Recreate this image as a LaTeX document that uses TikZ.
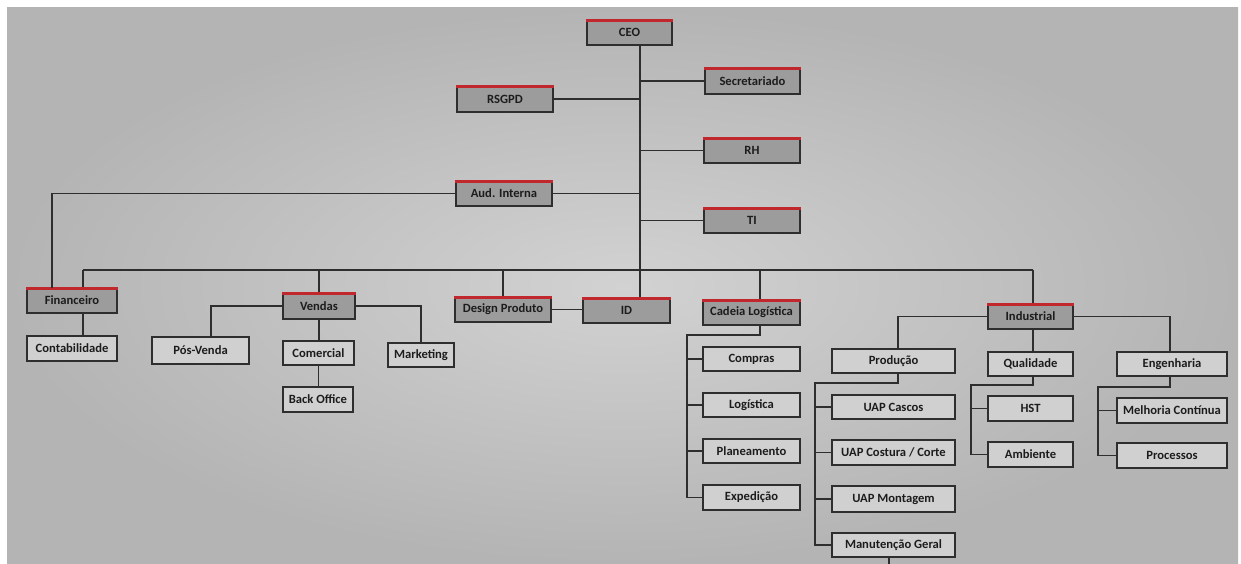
\documentclass[tikz,border=0pt]{standalone}
\usepackage{fontspec}
\setmainfont{Carlito}
\usetikzlibrary{calc}
\definecolor{bgmid}{HTML}{D2D2D2}
\definecolor{bgout}{HTML}{B4B4B4}
\definecolor{topfill}{HTML}{9C9C9C}
\definecolor{subfill}{HTML}{D0D0D0}
\definecolor{redband}{HTML}{C0282D}
\definecolor{ink}{HTML}{2E2E2E}
\definecolor{txt}{HTML}{1C1C1C}
\tikzset{
  base/.style={rectangle, inner sep=0pt, draw=ink, line width=1.3pt,
    text=txt, font=\fontsize{12.6}{13}\selectfont\bfseries},
  topbox/.style={base, fill=topfill,
    path picture={
      \draw[ink, line width=2.6pt] (path picture bounding box.south west) -- (path picture bounding box.south east);
    }},
  subbox/.style={base, fill=subfill},
  link/.style={draw=ink, line width=1.2pt},
  band/.style={draw=redband, line width=3.6pt}
}
\begin{document}
\begin{tikzpicture}[x=1pt,y=-1pt]
\useasboundingbox (0,0) rectangle (1241,564);
\fill[white] (0,0) rectangle (1241,564);
\shade[inner color=bgmid, outer color=bgout] (7,8) rectangle (1238,564);

% top level boxes
\node[topbox, minimum width=85pt, minimum height=25pt] (CEO) at (629.5,32.5) {CEO};
\node[topbox, minimum width=95pt, minimum height=26pt] (Sec) at (752.5,81) {Secretariado};
\node[topbox, minimum width=96pt, minimum height=26pt] (RSGPD) at (505,99) {RSGPD};
\node[topbox, minimum width=96pt, minimum height=25pt] (RH) at (752,150.5) {RH};
\node[topbox, minimum width=96pt, minimum height=25pt] (Aud) at (504,193.5) {Aud. Interna};
\node[topbox, minimum width=96pt, minimum height=25pt] (TI) at (752,220.5) {TI};
\node[topbox, minimum width=90pt, minimum height=25pt] (Fin) at (72,300.5) {Financeiro};
\node[topbox, minimum width=72pt, minimum height=26pt] (Vendas) at (319,306) {Vendas};
\node[topbox, minimum width=96pt, minimum height=25pt] (Design) at (503,309.5) {Design Produto};
\node[topbox, minimum width=87pt, minimum height=25pt] (ID) at (626.5,310.5) {ID};
\node[topbox, minimum width=97pt, minimum height=25pt] (Cadeia) at (751.5,312.5) {Cadeia Logística};
\node[topbox, minimum width=85pt, minimum height=25pt] (Ind) at (1030.5,316.5) {Industrial};

\foreach \n in {CEO,Sec,RSGPD,RH,Aud,TI,Fin,Vendas,Design,ID,Cadeia,Ind}
  \draw[band] ([yshift=-1pt]\n.north west) -- ([yshift=-1pt]\n.north east);

% sub boxes
\node[subbox, minimum width=90pt, minimum height=25pt] (Cont) at (72,348.5) {Contabilidade};
\node[subbox, minimum width=97pt, minimum height=27pt] (Pos) at (200.5,350.5) {Pós-Venda};
\node[subbox, minimum width=71pt, minimum height=24pt] (Com) at (318.5,353) {Comercial};
\node[subbox, minimum width=70pt, minimum height=25pt] (Back) at (318,399.5) {Back Office};
\node[subbox, minimum width=66pt, minimum height=24pt] (Mkt) at (421,355) {Marketing};
\node[subbox, minimum width=97pt, minimum height=24pt] (Compras) at (751.5,359) {Compras};
\node[subbox, minimum width=97pt, minimum height=24pt] (Log) at (751.5,405) {Logística};
\node[subbox, minimum width=97pt, minimum height=24pt] (Plan) at (751.5,451) {Planeamento};
\node[subbox, minimum width=97pt, minimum height=25pt] (Exp) at (751.5,497.5) {Expedição};
\node[subbox, minimum width=123pt, minimum height=24pt] (Prod) at (893.5,361) {Produção};
\node[subbox, minimum width=123pt, minimum height=24pt] (Cascos) at (893.5,407) {UAP Cascos};
\node[subbox, minimum width=123pt, minimum height=25pt] (Costura) at (893.5,452.5) {UAP Costura / Corte};
\node[subbox, minimum width=123pt, minimum height=26pt] (Mont) at (893.5,499) {UAP Montagem};
\node[subbox, minimum width=123pt, minimum height=24pt] (Manut) at (893.5,545) {Manutenção Geral};
\node[subbox, minimum width=85pt, minimum height=24pt] (Qual) at (1030.5,364) {Qualidade};
\node[subbox, minimum width=85pt, minimum height=25pt] (HST) at (1030.5,408.5) {HST};
\node[subbox, minimum width=85pt, minimum height=25pt] (Amb) at (1030.5,454.5) {Ambiente};
\node[subbox, minimum width=110pt, minimum height=24pt] (Eng) at (1172,364) {Engenharia};
\node[subbox, minimum width=110pt, minimum height=25pt] (Melh) at (1172,410.5) {Melhoria Contínua};
\node[subbox, minimum width=110pt, minimum height=25pt] (Proc) at (1172,455.5) {Processos};

% junction coordinates
\coordinate (spine) at (640,0);
\coordinate (busL) at (83,270);
\coordinate (busR) at (1033,270);
\coordinate (finL) at (52,288);
\coordinate (pvT) at (211,337);
\coordinate (cad) at (760,0);
\coordinate (cl1) at (760,335);
\coordinate (cl2) at (687,335);
\coordinate (pT) at (898,349);
\coordinate (pr1) at (898,383);
\coordinate (pr2) at (815,383);
\coordinate (ql1) at (1033,385);
\coordinate (ql2) at (971,385);
\coordinate (en1) at (1170,387);
\coordinate (en2) at (1098,387);
\coordinate (stub) at (889,564);

% CEO spine and staff
\draw[link] (CEO.south -| spine) -- (ID.north -| spine);
\draw[link] (Sec.west) -- (Sec.west -| spine);
\draw[link] (RSGPD.east) -- (RSGPD.east -| spine);
\draw[link] (RH.west) -- (RH.west -| spine);
\draw[link] (Aud.east) -- (Aud.east -| spine);
\draw[link] (TI.west) -- (TI.west -| spine);
\draw[link] (Aud.west) -| (finL);

% bus
\draw[link] (busL) -- (busR);
\draw[link] (busL) -- (busL |- Fin.north);
\draw[link] (Vendas.north |- busL) -- (Vendas.north);
\draw[link] (Design.north |- busL) -- (Design.north);
\draw[link] (cad |- busL) -- (cad |- Cadeia.north);
\draw[link] (busR) -- (busR |- Ind.north);

% Financeiro
\draw[link] (Fin.south -| busL) -- (Cont.north -| busL);

% Vendas
\draw[link] (Vendas.west) -| (pvT);
\draw[link] (Vendas.south) -- (Vendas.south |- Com.north);
\draw[link] (Com.south) -- (Com.south |- Back.north);
\draw[link] (Vendas.east) -| (Mkt.north);

% Design - ID
\draw[link] (Design.east) -- (Design.east -| ID.west);

% Cadeia
\draw[link] (cad |- Cadeia.south) -- (cl1) -- (cl2) |- (Exp.west);
\draw[link] (cl2 |- Compras.west) -- (Compras.west);
\draw[link] (cl2 |- Log.west) -- (Log.west);
\draw[link] (cl2 |- Plan.west) -- (Plan.west);

% Industrial
\draw[link] (Ind.west) -| (pT);
\draw[link] (Ind.south -| busR) -- (Qual.north -| busR);
\draw[link] (Ind.east) -| (en1 |- Eng.north);

% Producao
\draw[link] (pr1 |- Prod.south) -- (pr1) -- (pr2) |- (Manut.west);
\draw[link] (pr2 |- Cascos.west) -- (Cascos.west);
\draw[link] (pr2 |- Costura.west) -- (Costura.west);
\draw[link] (pr2 |- Mont.west) -- (Mont.west);
\draw[link] (Manut.south -| stub) -- (stub);

% Qualidade
\draw[link] (ql1 |- Qual.south) -- (ql1) -- (ql2) |- (Amb.west);
\draw[link] (ql2 |- HST.west) -- (HST.west);

% Engenharia
\draw[link] (en1 |- Eng.south) -- (en1) -- (en2) |- (Proc.west);
\draw[link] (en2 |- Melh.west) -- (Melh.west);
\end{tikzpicture}
\end{document}
